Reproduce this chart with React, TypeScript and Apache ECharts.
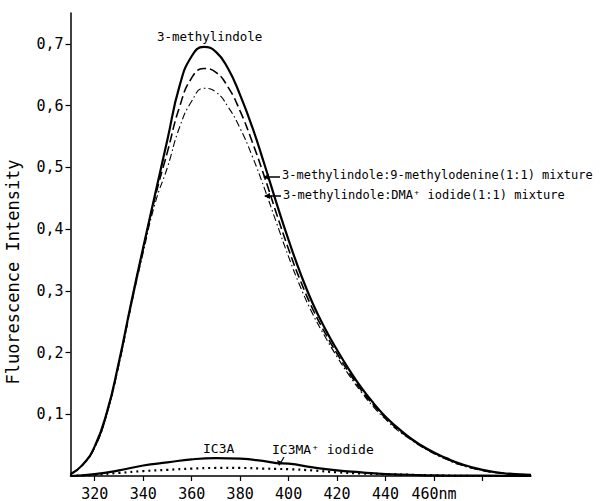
import React, { useEffect, useRef } from "react";
import * as echarts from "echarts";

const wavelengths = [310, 315, 320, 325, 330, 335, 340, 345, 350, 355, 360, 365, 370, 375, 380, 385, 390, 395, 400, 405, 410, 415, 420, 425, 430, 435, 440, 445, 450, 455, 460, 465, 470, 480, 490, 500];
const methylindole = [0.003, 0.018, 0.048, 0.103, 0.185, 0.28, 0.37, 0.458, 0.545, 0.632, 0.68, 0.695, 0.687, 0.66, 0.617, 0.565, 0.505, 0.442, 0.382, 0.327, 0.279, 0.239, 0.204, 0.172, 0.143, 0.118, 0.096, 0.078, 0.062, 0.049, 0.038, 0.029, 0.021, 0.01, 0.004, 0.002];
const mixAdenine = [0.003, 0.018, 0.047, 0.102, 0.183, 0.278, 0.368, 0.453, 0.525, 0.598, 0.645, 0.66, 0.654, 0.63, 0.591, 0.541, 0.485, 0.425, 0.367, 0.315, 0.27, 0.232, 0.198, 0.167, 0.139, 0.115, 0.094, 0.076, 0.061, 0.048, 0.037, 0.028, 0.02, 0.009, 0.004, 0.002];
const mixDMA = [0.003, 0.018, 0.046, 0.1, 0.18, 0.274, 0.362, 0.443, 0.5, 0.565, 0.607, 0.628, 0.622, 0.598, 0.563, 0.518, 0.466, 0.41, 0.355, 0.305, 0.262, 0.226, 0.193, 0.163, 0.136, 0.112, 0.092, 0.074, 0.06, 0.047, 0.036, 0.027, 0.019, 0.009, 0.004, 0.002];

const lowWavelengths = [310, 320, 330, 340, 350, 360, 370, 380, 390, 395, 400, 410, 420, 430, 440, 450, 460, 480, 500];
const ic3a = [0, 0.003, 0.009, 0.017, 0.022, 0.027, 0.029, 0.028, 0.024, 0.021, 0.02, 0.014, 0.009, 0.006, 0.003, 0.002, 0.001, 0.0005, 0];
const ic3ma = [0, 0.002, 0.005, 0.008, 0.01, 0.012, 0.013, 0.013, 0.012, 0.0115, 0.011, 0.009, 0.006, 0.004, 0.003, 0.002, 0.001, 0, 0];

const xTicks = [320, 340, 360, 380, 400, 420, 440, 460, 480];
const xLabels = [320, 340, 360, 380, 400, 420, 440, 460];
const yTicks = [0.1, 0.2, 0.3, 0.4, 0.5, 0.6, 0.7];

const FONT = "DejaVu Sans Mono";

function pairs(xs: number[], ys: number[]) {
  return xs.map((x, i) => [x, ys[i]]);
}

export default function App() {
  const ref = useRef<HTMLDivElement>(null);
  useEffect(() => {
    document.body.style.margin = "0";
    if (!ref.current) return;
    const chart = echarts.init(ref.current, undefined, { renderer: "svg" });
    const lineBase = { type: "line", showSymbol: false, symbol: "none", smooth: 0.5, silent: true };
    chart.setOption({
      animation: false,
      backgroundColor: "#ffffff",
      grid: { left: 70.5, right: 71, top: 13, bottom: 25, outerBoundsMode: "none", containLabel: false },
      xAxis: {
        type: "value",
        min: 310,
        max: 500,
        splitLine: { show: false },
        axisLine: { show: true, onZero: false, lineStyle: { color: "#000", width: 1.5 } },
        axisTick: { show: true, length: 5, customValues: xTicks, lineStyle: { color: "#000", width: 1.2 } },
        axisLabel: {
          show: true,
          customValues: xLabels,
          margin: 10,
          color: "#000",
          fontFamily: FONT,
          fontSize: 15,
          formatter: (v: number) => (v === 460 ? "460nm" : String(v)),
        },
      },
      yAxis: {
        type: "value",
        min: 0,
        max: 0.75,
        splitLine: { show: false },
        axisLine: { show: true, lineStyle: { color: "#000", width: 1.5 } },
        axisTick: { show: true, length: 5, customValues: yTicks, lineStyle: { color: "#000", width: 1.2 } },
        axisLabel: {
          show: true,
          customValues: yTicks,
          margin: 7,
          color: "#000",
          fontFamily: FONT,
          fontSize: 15,
          formatter: (v: number) => v.toFixed(1).replace(".", ","),
        },
      },
      series: [
        { ...lineBase, name: "3-methylindole", data: pairs(wavelengths, methylindole), lineStyle: { color: "#000", width: 2.2, type: "solid" } },
        { ...lineBase, name: "3-methylindole:9-methylodenine(1:1) mixture", data: pairs(wavelengths, mixAdenine), lineStyle: { color: "#000", width: 1.6, type: [9, 4] } },
        { ...lineBase, name: "3-methylindole:DMA+ iodide(1:1) mixture", data: pairs(wavelengths, mixDMA), lineStyle: { color: "#000", width: 1.1, type: [7, 3, 1.5, 3] } },
        { ...lineBase, name: "IC3A", data: pairs(lowWavelengths, ic3a), lineStyle: { color: "#000", width: 2.2, type: "solid" } },
        { ...lineBase, name: "IC3MA+ iodide", data: pairs(lowWavelengths, ic3ma), lineStyle: { color: "#000", width: 2.2, type: [2, 4] } },
      ],
      graphic: [
        {
          type: "text",
          x: 13,
          y: 272,
          rotation: Math.PI / 2,
          style: { text: "Fluorescence Intensity", fill: "#000", font: `17px "${FONT}"`, align: "center", verticalAlign: "middle" },
        },
        { type: "text", left: 157, top: 30, style: { text: "3-methylindole", fill: "#000", font: `12.5px "${FONT}"` } },
        { type: "text", left: 282, top: 169, style: { text: "3-methylindole:9-methylodenine(1:1) mixture", fill: "#000", font: `12px "${FONT}"` } },
        { type: "text", left: 283, top: 189, style: { text: "3-methylindole:DMA⁺ iodide(1:1) mixture", fill: "#000", font: `12px "${FONT}"` } },
        { type: "line", shape: { x1: 280, y1: 177, x2: 264, y2: 177 }, style: { stroke: "#000", lineWidth: 1.5 } },
        { type: "polygon", shape: { points: [[263, 177], [269, 174], [269, 180]] }, style: { fill: "#000" } },
        { type: "line", shape: { x1: 281, y1: 196, x2: 265, y2: 196 }, style: { stroke: "#000", lineWidth: 1.5 } },
        { type: "polygon", shape: { points: [[264, 196], [270, 193], [270, 199]] }, style: { fill: "#000" } },
        { type: "text", left: 203, top: 442, style: { text: "IC3A", fill: "#000", font: `13px "${FONT}"` } },
        { type: "text", left: 272, top: 443, style: { text: "IC3MA⁺ iodide", fill: "#000", font: `13px "${FONT}"` } },
        { type: "line", shape: { x1: 284, y1: 457, x2: 280, y2: 464 }, style: { stroke: "#000", lineWidth: 1.2 } },
        { type: "polygon", shape: { points: [[279, 466], [277, 460], [282, 462]] }, style: { fill: "#000" } },
      ],
    });
    return () => chart.dispose();
  }, []);
  return <div ref={ref} style={{ width: 602, height: 501 }} />;
}
